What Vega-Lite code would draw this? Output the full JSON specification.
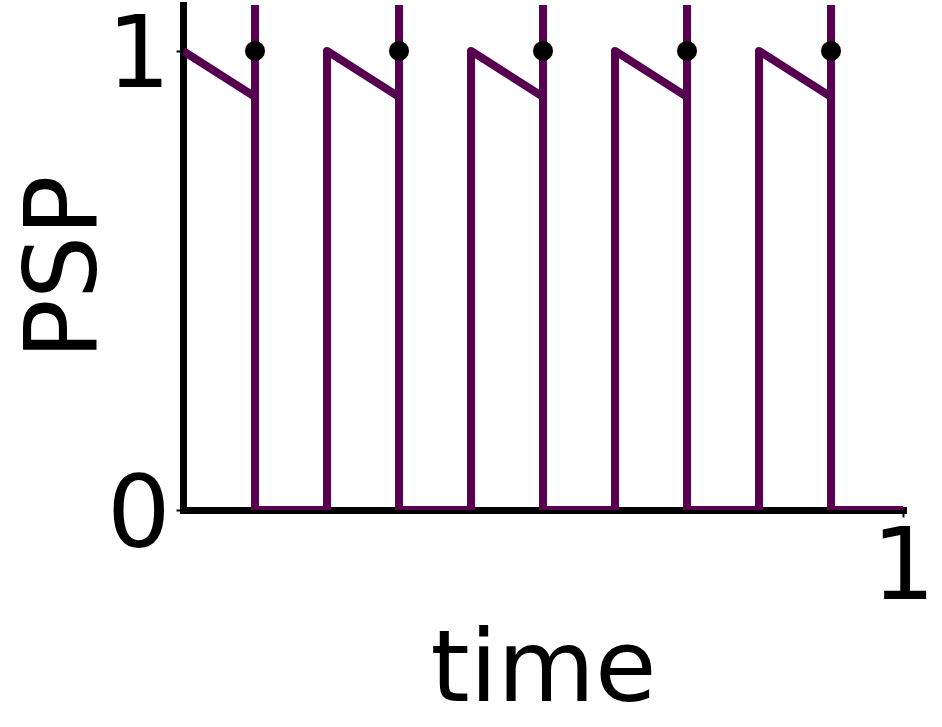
{
  "$schema": "https://vega.github.io/schema/vega-lite/v6.json",
  "width": 720,
  "height": 505,
  "autosize": {"type": "none"},
  "padding": {"left": 183, "top": 5, "right": 39, "bottom": 217},
  "config": {
    "view": {"stroke": null},
    "font": "DejaVu Sans",
    "axis": {
      "domainColor": "black",
      "domainWidth": 7,
      "domainCap": "square",
      "tickColor": "black",
      "tickWidth": 2,
      "tickSize": 7,
      "labelColor": "black",
      "labelFontSize": 100,
      "labelFont": "DejaVu Sans",
      "labelLimit": 0,
      "labelOverlap": false,
      "labelFlush": false,
      "titleFont": "DejaVu Sans",
      "titleFontSize": 100,
      "titleFontWeight": "normal",
      "titleColor": "black",
      "grid": false,
      "zindex": 1
    }
  },
  "datasets": {
    "psp": [
      {"i": 0, "t": 0.0, "v": 1.0},
      {"i": 1, "t": 0.1, "v": 0.9},
      {"i": 2, "t": 0.1, "v": 3.0},
      {"i": 3, "t": 0.1, "v": 0.0},
      {"i": 4, "t": 0.2, "v": 0.0},
      {"i": 5, "t": 0.2, "v": 1.0},
      {"i": 6, "t": 0.3, "v": 0.9},
      {"i": 7, "t": 0.3, "v": 3.0},
      {"i": 8, "t": 0.3, "v": 0.0},
      {"i": 9, "t": 0.4, "v": 0.0},
      {"i": 10, "t": 0.4, "v": 1.0},
      {"i": 11, "t": 0.5, "v": 0.9},
      {"i": 12, "t": 0.5, "v": 3.0},
      {"i": 13, "t": 0.5, "v": 0.0},
      {"i": 14, "t": 0.6, "v": 0.0},
      {"i": 15, "t": 0.6, "v": 1.0},
      {"i": 16, "t": 0.7, "v": 0.9},
      {"i": 17, "t": 0.7, "v": 3.0},
      {"i": 18, "t": 0.7, "v": 0.0},
      {"i": 19, "t": 0.8, "v": 0.0},
      {"i": 20, "t": 0.8, "v": 1.0},
      {"i": 21, "t": 0.9, "v": 0.9},
      {"i": 22, "t": 0.9, "v": 3.0},
      {"i": 23, "t": 0.9, "v": 0.0},
      {"i": 24, "t": 1.0, "v": 0.0}
    ],
    "spikes": [
      {"t": 0.1, "v": 1.0},
      {"t": 0.3, "v": 1.0},
      {"t": 0.5, "v": 1.0},
      {"t": 0.7, "v": 1.0},
      {"t": 0.9, "v": 1.0}
    ]
  },
  "layer": [
    {
      "data": {"name": "psp"},
      "mark": {"type": "line", "color": "#570050", "strokeWidth": 8, "strokeJoin": "round", "clip": true},
      "encoding": {
        "x": {
          "field": "t", "type": "quantitative",
          "scale": {"domain": [0, 1], "nice": false, "zero": false},
          "axis": {"values": [1], "format": "d", "title": "time", "domainWidth": 7, "labelPadding": 2, "titleBaseline": "alphabetic", "titleY": 190, "titleX": 360, "titleAnchor": "middle"}
        },
        "y": {
          "field": "v", "type": "quantitative",
          "scale": {"domain": [0, 1.1], "nice": false, "zero": false},
          "axis": {"values": [0, 1], "format": "d", "title": "PSP", "domainWidth": 7, "labelPadding": 6, "labelOffset": 6, "titleBaseline": "alphabetic", "titleAngle": -90, "titleX": -88, "titleY": 262, "titleAnchor": "middle"}
        },
        "order": {"field": "i", "type": "quantitative"}
      }
    },
    {
      "data": {"name": "spikes"},
      "mark": {"type": "point", "filled": true, "color": "black", "size": 400, "opacity": 1},
      "encoding": {
        "x": {"field": "t", "type": "quantitative"},
        "y": {"field": "v", "type": "quantitative"}
      }
    }
  ]
}
